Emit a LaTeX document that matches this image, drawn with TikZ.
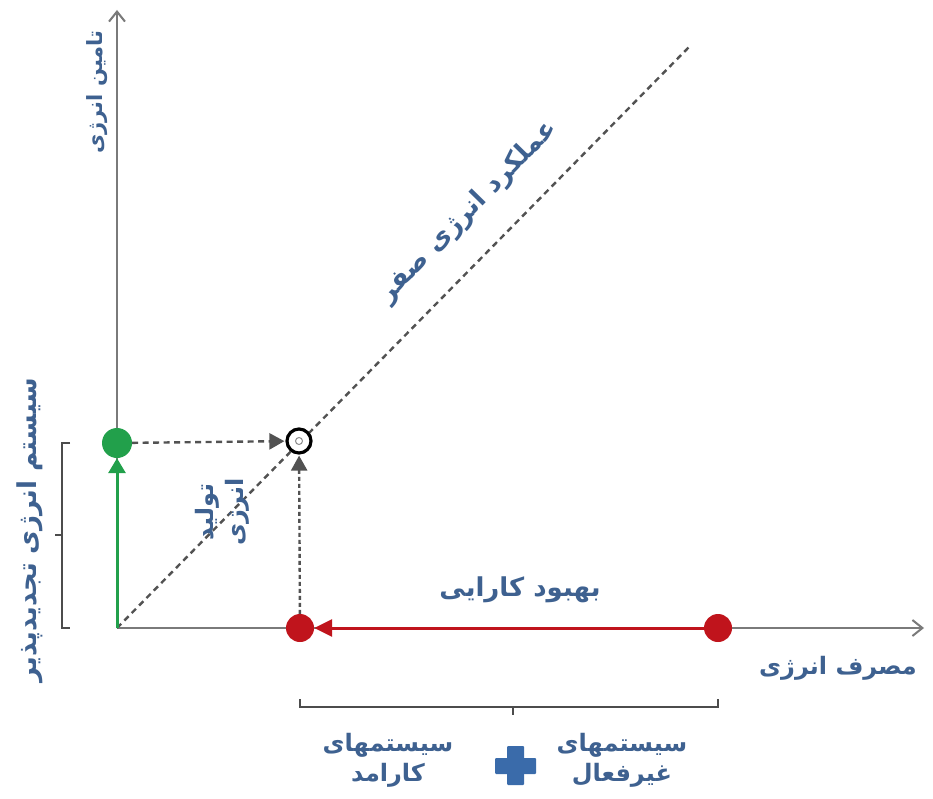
\documentclass[tikz,border=0pt]{standalone}
\usepackage{fontspec}
\usetikzlibrary{arrows.meta}
\TeXXeTstate=1
\newfontfamily\arabicfont[Script=Arabic]{DejaVu Sans}
\definecolor{txtblue}{HTML}{3E6190}
\definecolor{dotgreen}{HTML}{22A04B}
\definecolor{dotred}{HTML}{C0141C}
\definecolor{crossblue}{HTML}{3A6BAA}
\definecolor{axisgray}{HTML}{7A7A7A}
\tikzset{
  lbl/.style={text=txtblue, font=\arabicfont\bfseries\fontsize{24}{30}\selectfont, align=center, inner sep=0pt},
  smalllbl/.style={lbl, font=\arabicfont\bfseries\fontsize{21}{26}\selectfont},
  biglbl/.style={lbl, font=\arabicfont\bfseries\fontsize{26}{32}\selectfont},
  axisline/.style={draw=axisgray, line width=2.6pt, -{Straight Barb[length=10pt,width=16pt,line width=2pt]}},
  dotg/.style={circle, fill=dotgreen, minimum size=30pt, inner sep=0pt},
  dotr/.style={circle, fill=dotred, minimum size=28pt, inner sep=0pt},
  guide/.style={draw=black!68, line width=2.4pt, dash pattern=on 6pt off 4.5pt},
  bracketline/.style={draw=black!70, line width=2pt},
}
\begin{document}
\begin{tikzpicture}[x=1pt,y=-1pt]
\useasboundingbox (0,0) rectangle (933,799);
\fill[white] (0,0) rectangle (933,799);

% axes
\coordinate (o) at (117,628);
\coordinate (ytop) at (117,10);
\coordinate (xend) at (924,628);
\coordinate (diagend) at (690,46);
\draw[axisline] (o) -- (ytop);
\draw[axisline] (o) -- (xend);
\draw[guide] (o) -- (diagend);

% points
\node[dotg] (g) at (117,443) {};
\node[dotr] (r1) at (300,628) {};
\node[dotr] (r2) at (718,628) {};
\node[circle, draw=black, line width=3.2pt, fill=white, minimum size=24pt, inner sep=0pt] (c) at (299,441) {};
\node[circle, draw=black!45, line width=1pt, minimum size=7pt, inner sep=0pt] (ci) at (299,441) {};

% connectors
\draw[dotgreen, line width=3pt, -{Triangle[length=15pt,width=17pt]}] (o) -- (g);
\draw[dotred, line width=3pt, -{Triangle[length=18pt,width=17pt]}] (r2) -- (r1);
\draw[guide, -{Triangle[length=15pt,width=16pt]}, shorten >=1pt] (g) -- (c);
\draw[draw=black!68, line width=2.4pt, dash pattern=on 4pt off 3pt, -{Triangle[length=15pt,width=16pt]}, shorten >=1pt] (r1) -- (c);

% brackets
\draw[bracketline] (70,443) -- (62,443) -- (62,628) -- (70,628);
\draw[bracketline] (62,535) -- (55,535);
\draw[bracketline] (300,699) -- (300,707) -- (718,707) -- (718,699);
\draw[bracketline] (513,707) -- (513,715);

% plus sign
\fill[crossblue, rounded corners=1pt] (507,746) rectangle (524,785);
\fill[crossblue, rounded corners=1pt] (495,758) rectangle (536,774);

% labels
\node[smalllbl, rotate=90] (ylab) at (97,92) {\beginR تامین انرژی\endR};
\node[biglbl, rotate=90] (renew) at (30,530) {\beginR سیستم انرژی تجدیدپذیر\endR};
\node[biglbl, rotate=45.6] (zero) at (468,212) {\beginR عملکرد انرژی صفر\endR};
\node[lbl, rotate=90] (prod) at (222,512) {\beginR تولید\endR\\\beginR انرژی\endR};
\node[biglbl] (eff) at (520,590) {\beginR بهبود کارایی\endR};
\node[lbl] (xlab) at (838,668) {\beginR مصرف انرژی\endR};
\node[lbl] (active) at (388,760) {\beginR سیستمهای\endR\\\beginR کارامد\endR};
\node[lbl] (passive) at (622,760) {\beginR سیستمهای\endR\\\beginR غیرفعال\endR};
\end{tikzpicture}
\end{document}
